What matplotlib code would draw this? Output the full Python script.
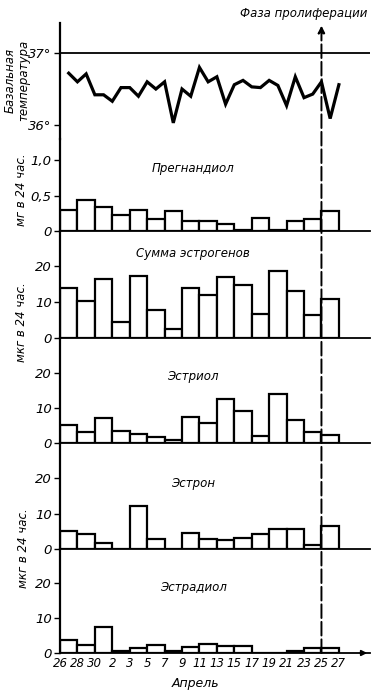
import numpy as np
import matplotlib
matplotlib.use('Agg')
import matplotlib.pyplot as plt
from matplotlib.patches import ConnectionPatch

plt.rcParams['font.family'] = ['DejaVu Sans']
plt.rcParams['font.style'] = 'italic'

# Dates on the bar edges (every second day)
dates = ['26', '28', '30', '2', '3', '5', '7', '9', '11', '13', '15', '17',
         '19', '21', '23', '25', '27']

# Daily basal temperature
temperature = [36.72, 36.60, 36.71, 36.42, 36.42, 36.33, 36.52, 36.52, 36.40, 36.60,
               36.50, 36.60, 36.03, 36.50, 36.40, 36.80, 36.60, 36.67, 36.29, 36.56,
               36.62, 36.53, 36.52, 36.62, 36.55, 36.27, 36.67, 36.38, 36.43, 36.60,
               36.09, 36.56]

# Excretion per two-day period
pregnandiol = [0.30, 0.43, 0.34, 0.23, 0.29, 0.17, 0.28, 0.14, 0.14, 0.10,
               0.02, 0.19, 0.02, 0.14, 0.17, 0.28]
estrogens_sum = [14.0, 10.3, 16.3, 4.5, 17.2, 7.7, 2.6, 14.0, 11.9, 17.0,
                 14.7, 6.8, 18.7, 13.1, 6.3, 10.7]
estriol = [5.0, 3.0, 7.1, 3.3, 2.5, 1.7, 0.9, 7.4, 5.8, 12.5,
           9.0, 1.9, 14.0, 6.6, 3.2, 2.4]
estrone = [5.1, 4.1, 1.7, 0, 12.1, 2.9, 0, 4.4, 2.7, 2.5,
           3.2, 4.2, 5.6, 5.6, 1.2, 6.4]
estradiol = [3.6, 2.4, 7.5, 0.5, 1.3, 2.2, 0.6, 1.7, 2.7, 1.9,
             1.9, 0, 0, 0.6, 1.3, 1.3]

phase_start = 15  # edge labelled "25"

W, H = 373, 691
fig = plt.figure(figsize=(W / 100, H / 100), dpi=100)

left_px, right_px = 60, 370
xmax = (right_px - left_px) / 17.43


def make_axes(top_px, bottom_px):
    ax = fig.add_axes([left_px / W, 1 - bottom_px / H,
                       (right_px - left_px) / W, (bottom_px - top_px) / H])
    ax.set_xlim(0, xmax)
    ax.set_facecolor('none')
    for s in ['top', 'right']:
        ax.spines[s].set_visible(False)
    ax.spines['left'].set_linewidth(1.6)
    ax.spines['bottom'].set_linewidth(1.3)
    ax.tick_params(axis='y', direction='out', length=4, width=1, labelsize=9.5, pad=2)
    ax.tick_params(axis='x', length=0)
    ax.set_xticks([])
    return ax


# Basal temperature
ax_t = make_axes(23, 139)
ax_t.set_ylim(35.806, 37.417)
ax_t.spines['bottom'].set_visible(False)
ax_t.axhline(37, color='black', lw=1.3)
days_x = 0.5 + 0.5 * np.arange(len(temperature))
ax_t.plot(days_x, temperature, color='black', lw=2.3, solid_joinstyle='miter')
ax_t.set_yticks([36, 37])
ax_t.set_yticklabels(['36°', '37°'])

panels = [
    (pregnandiol, 139, 231, (0, 1.296), [0, 0.5, 1.0], ['0', '0,5', '1,0'], 'Прегнандиол', 0.68),
    (estrogens_sum, 231, 338, (0, 29.7), [0, 10, 20], ['0', '10', '20'], 'Сумма эстрогенов', 0.79),
    (estriol, 338, 443, (0, 29.8), [0, 10, 20], ['0', '10', '20'], 'Эстриол', 0.63),
    (estrone, 443, 549, (0, 29.9), [0, 10, 20], ['0', '10', '20'], 'Эстрон', 0.62),
    (estradiol, 549, 653, (0, 29.6), [0, 10, 20], ['0', '10', '20'], 'Эстрадиол', 0.63),
]

axes = []
for values, top_px, bottom_px, ylim, ticks, labels, title, title_y in panels:
    ax = make_axes(top_px, bottom_px)
    ax.set_ylim(*ylim)
    ax.bar(np.arange(len(values)), values, width=1, align='edge',
           facecolor='white', edgecolor='black', linewidth=1.6)
    ax.set_yticks(ticks)
    ax.set_yticklabels(labels)
    ax.text(0.43, title_y, title, transform=ax.transAxes, ha='center', va='center', fontsize=8.5)
    axes.append(ax)

ax_b = axes[-1]
ax_b.set_xticks(np.arange(len(dates)))
ax_b.set_xticklabels(dates, fontsize=8.5)
ax_b.tick_params(axis='x', pad=3)
ax_b.annotate('', xy=(1.0, 0), xycoords='axes fraction', xytext=(0.96, 0),
              arrowprops=dict(arrowstyle='-|>', color='black', lw=1.3, mutation_scale=8))

# Proliferation phase marker
con = ConnectionPatch(xyA=(phase_start, 0), coordsA=ax_b.transData,
                      xyB=(phase_start, 37.38), coordsB=ax_t.transData,
                      arrowstyle='-|>', mutation_scale=10, color='black',
                      lw=1.4, linestyle=(0, (7, 2)))
fig.add_artist(con)
fig.text(304 / W, 1 - 13 / H, 'Фаза пролиферации', ha='center', va='center', fontsize=8.5)

# Axis captions
fig.text(17 / W, 1 - 80 / H, 'Базальная\nтемпература', rotation=90,
         ha='center', va='center', fontsize=8.5, linespacing=1.05)
fig.text(22 / W, 1 - 190 / H, 'мг в 24 час.', rotation=90, ha='center', va='center', fontsize=8.5)
fig.text(22 / W, 1 - 322 / H, 'мкг в 24 час.', rotation=90, ha='center', va='center', fontsize=8.5)
fig.text(24 / W, 1 - 548 / H, 'мкг в 24 час.', rotation=90, ha='center', va='center', fontsize=8.5)
fig.text(195 / W, 1 - 683 / H, 'Апрель', ha='center', va='center', fontsize=9)

fig.savefig('out.png', dpi=100, facecolor='white')
